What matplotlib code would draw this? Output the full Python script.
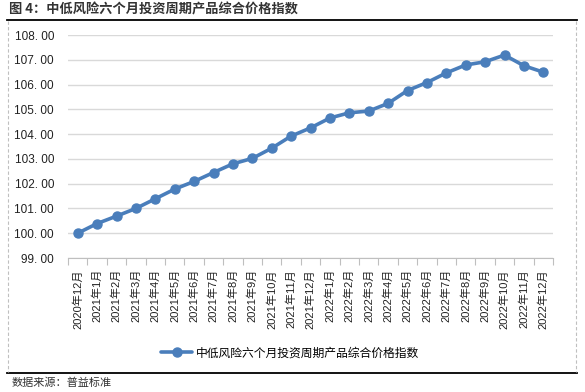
import matplotlib
matplotlib.use("Agg")
import matplotlib.pyplot as plt
from matplotlib.lines import Line2D
import numpy as np

plt.rcParams['font.family'] = ['Liberation Sans', 'Noto Sans CJK SC', 'DejaVu Sans']

# 数据
months = ['2020年12月', '2021年1月', '2021年2月', '2021年3月', '2021年4月', '2021年5月',
          '2021年6月', '2021年7月', '2021年8月', '2021年9月', '2021年10月', '2021年11月',
          '2021年12月', '2022年1月', '2022年2月', '2022年3月', '2022年4月', '2022年5月',
          '2022年6月', '2022年7月', '2022年8月', '2022年9月', '2022年10月', '2022年11月',
          '2022年12月']
index_values = [100.00, 100.39, 100.69, 101.00, 101.39, 101.78, 102.09, 102.45, 102.80,
                103.02, 103.43, 103.92, 104.25, 104.65, 104.86, 104.93, 105.24, 105.76,
                106.08, 106.47, 106.79, 106.92, 107.19, 106.76, 106.50]
y_ticks = [99, 100, 101, 102, 103, 104, 105, 106, 107, 108]
series_name = '中低风险六个月投资周期产品综合价格指数'
title = '图 4：中低风险六个月投资周期产品综合价格指数'
source = '数据来源：普益标准'

W, H = 585, 392
fig = plt.figure(figsize=(W / 100, H / 100), dpi=100, facecolor='white')

# 主图区域
ax = fig.add_axes([68 / W, 1 - 258 / H, (553 - 68) / W, (258 - 35) / H])
x = np.arange(len(months))
line, = ax.plot(x, index_values, color='#4A7EBB', lw=2.6, marker='o', ms=6.5,
                solid_capstyle='round', zorder=3)

ax.set_xlim(-0.5, len(months) - 0.5)
ax.set_ylim(99, 108)
ax.set_yticks(y_ticks)
ax.set_yticklabels([f'{v}. 00' for v in y_ticks], fontsize=8.5, color='#222222')
ax.set_xticks(x)
ax.set_xticklabels(months, rotation=90, fontsize=8, color='#222222')
ax.set_xticks(np.arange(-0.5, len(months)), minor=True)
ax.tick_params(axis='x', which='major', length=0, pad=8)
ax.tick_params(axis='x', which='minor', length=5, color='#BFBFBF', width=0.8)
ax.tick_params(axis='y', length=0, pad=10)
ax.grid(axis='y', color='#D9D9D9', lw=1)
ax.set_axisbelow(True)
for s in ['top', 'right', 'left']:
    ax.spines[s].set_visible(False)
ax.spines['bottom'].set_color('#BFBFBF')
ax.spines['bottom'].set_linewidth(0.8)

# 图例
fig.legend([line], [series_name], loc='center', bbox_to_anchor=(290 / W, 1 - 353 / H),
           frameon=False, handlelength=2.6, handletextpad=0.3,
           prop={'family': ['Noto Sans CJK SC'], 'size': 8.5})

# 边框与标题
fig.add_artist(Line2D([7 / W, 577 / W], [1 - 19.5 / H] * 2, color='black', lw=1.3))
fig.add_artist(Line2D([7 / W, 577 / W], [1 - 373 / H] * 2, color='black', lw=1.3))
fig.add_artist(Line2D([7.5 / W] * 2, [1 - 21 / H, 1 - 372 / H], color='#BFBFBF', lw=0.8, ls=(0, (3, 2))))
fig.add_artist(Line2D([576 / W] * 2, [1 - 21 / H, 1 - 372 / H], color='#BFBFBF', lw=0.8, ls=(0, (3, 2))))

fig.text(9 / W, 1 - 9.5 / H, title, fontsize=9.5, fontweight='bold', va='center', ha='left',
         color='#333333', family=['Noto Sans CJK SC'])
fig.text(12 / W, 1 - 383 / H, source, fontsize=8, va='center', ha='left',
         color='#333333', family=['Noto Sans CJK SC'])

fig.savefig('out.png', dpi=100, facecolor='white')
